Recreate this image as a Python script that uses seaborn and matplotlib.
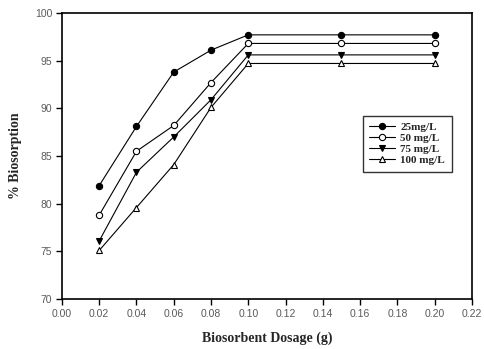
import matplotlib
matplotlib.use("Agg")
import matplotlib.pyplot as plt
import seaborn as sns
import pandas as pd

dosage = [0.02, 0.04, 0.06, 0.08, 0.10, 0.15, 0.20]
c25 = [81.9, 88.1, 93.8, 96.1, 97.7, 97.7, 97.7]
c50 = [78.8, 85.5, 88.2, 92.7, 96.8, 96.8, 96.8]
c75 = [76.1, 83.3, 87.0, 90.9, 95.6, 95.6, 95.6]
c100 = [75.1, 79.6, 84.1, 90.1, 94.7, 94.7, 94.7]
series_names = ["25mg/L", "50 mg/L", "75 mg/L", "100 mg/L"]
x_ticks = [0.00, 0.02, 0.04, 0.06, 0.08, 0.10, 0.12, 0.14, 0.16, 0.18, 0.20, 0.22]
y_ticks = [70, 75, 80, 85, 90, 95, 100]

sns.set_theme(style="white")
plt.rcParams["font.family"] = ["Liberation Sans", "DejaVu Sans"]

frames = []
for name, vals in zip(series_names, [c25, c50, c75, c100]):
    frames.append(pd.DataFrame({"dose": dosage, "pct": vals, "conc": name}))
df = pd.concat(frames, ignore_index=True)

fig = plt.figure(figsize=(4.84, 3.49), dpi=100)
ax = fig.add_axes([0.128, 0.143, 0.847, 0.820])

styles = {
    "25mg/L": dict(marker="o", mfc="black"),
    "50 mg/L": dict(marker="o", mfc="white"),
    "75 mg/L": dict(marker="v", mfc="black"),
    "100 mg/L": dict(marker="^", mfc="white"),
}
for name in series_names:
    sub = df[df["conc"] == name]
    st = styles[name]
    sns.lineplot(data=sub, x="dose", y="pct", ax=ax, color="black", lw=0.8,
                 marker=st["marker"], markersize=4.5, markerfacecolor=st["mfc"],
                 markeredgecolor="black", markeredgewidth=0.8, label=name)

ax.set_xlim(0, 0.22)
ax.set_ylim(70, 100)
ax.set_xticks(x_ticks)
ax.set_yticks(y_ticks)
ax.set_xticklabels([f"{v:.2f}" for v in x_ticks])
ax.set_yticklabels([str(v) for v in y_ticks])
ax.tick_params(axis="both", direction="out", length=4, width=1, colors="black",
               labelcolor="#5a5a5a", labelsize=7.5, bottom=True, left=True, pad=3)
for s in ax.spines.values():
    s.set_color("black")
    s.set_linewidth(1.2)

serif = ["Liberation Serif", "DejaVu Serif"]
ax.set_xlabel("Biosorbent Dosage (g)", fontsize=10, fontweight="bold", family=serif, labelpad=9)
ax.set_ylabel("% Biosorption", fontsize=10, fontweight="bold", family=serif, labelpad=9)

leg = ax.legend(loc="upper left", bbox_to_anchor=(0.72, 0.66), frameon=True, fancybox=False,
                edgecolor="black", handlelength=2.3, handletextpad=0.5, labelspacing=0.1,
                borderpad=0.6, prop={"family": serif, "weight": "bold", "size": 8})
leg.get_frame().set_linewidth(1.0)

fig.savefig("out.png", dpi=100)
